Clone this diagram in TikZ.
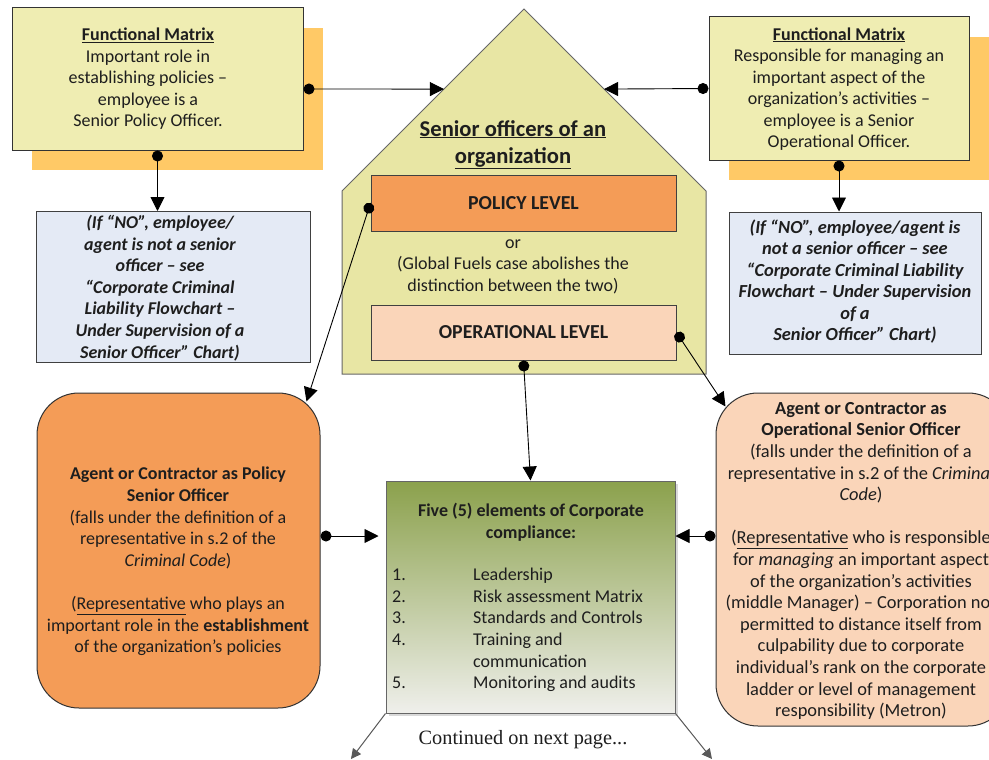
\documentclass[tikz,border=0pt]{standalone}
\usepackage{fontspec}
\setmainfont{Carlito}
\newfontfamily\contfont{Liberation Serif}
\usetikzlibrary{arrows.meta,calc,shadows}

\definecolor{matrixfill}{HTML}{EFEDB2}
\definecolor{shadowor}{HTML}{FFC966}
\definecolor{notefill}{HTML}{E4EAF5}
\definecolor{housefill}{HTML}{E8E6A4}
\definecolor{policyfill}{HTML}{F49C57}
\definecolor{opfill}{HTML}{FAD5B9}
\definecolor{greentop}{HTML}{8BA14C}
\definecolor{greenbot}{HTML}{EFEFEB}
\definecolor{ink}{HTML}{1E1E1E}

\tikzset{
  body/.style={font=\fontsize{18}{21.5}\selectfont, text=ink, align=center, inner sep=0pt},
  boxbase/.style={inner sep=0pt, line width=1pt},
  matrixbox/.style={boxbase, draw=black!80, fill=matrixfill,
    general shadow={fill=shadowor, shadow xshift=20pt, shadow yshift=-20pt}},
  notebox/.style={boxbase, draw=black!75, fill=notefill},
  levelbox/.style={boxbase, draw=black!75},
  roundbox/.style={boxbase, draw=black!80, rounded corners=42pt},
  greenbox/.style={boxbase, draw=black!60, top color=greentop, bottom color=greenbot,
    general shadow={fill=black!15, shadow xshift=3pt, shadow yshift=-3pt}},
  link/.style={line width=0.9pt, draw=black, {Circle[length=11pt]}-{Triangle[length=14pt,width=14pt]}},
  cont/.style={line width=1pt, draw=black!65, -{Triangle[length=10pt,width=10pt]}},
}

\begin{document}
\begin{tikzpicture}[x=1pt, y=-1pt]
\clip (0,0) rectangle (989,760);
\fill[white] (0,0) rectangle (989,760);

% house outline
\coordinate (hsl) at (342,191);
\coordinate (apex) at (524,9);
\coordinate (hsr) at (706,191);
\coordinate (hbr) at (706,374);
\coordinate (hbl) at (342,374);
\draw[line width=1pt, draw=black!60, fill=housefill]
  (hsl) -- (apex) -- (hsr) -- (hbr) -- (hbl) -- cycle;
\coordinate (roofL) at ($(hsl)!0.56!(apex)$);
\coordinate (roofR) at ($(hsr)!0.56!(apex)$);

\node[body, font=\fontsize{22.6}{27}\selectfont\bfseries] (title) at (513,144.5)
  {\underline{Senior officers of an}\\\underline{organization}};

\node[levelbox, fill=policyfill, minimum width=305pt, minimum height=56pt] (pol) at (523.5,203) {};
\node[body, font=\fontsize{19.8}{22}\selectfont\bfseries] (poltxt) at (pol) {POLICY LEVEL};

\node[body] (ortxt) at (513,266.5)
  {or\\(Global Fuels case abolishes the\\distinction between the two)};

\node[levelbox, fill=opfill, minimum width=305pt, minimum height=55pt] (op) at (523.5,332.5) {};
\node[body, font=\fontsize{19.8}{22}\selectfont\bfseries] (optxt) at (op) {OPERATIONAL LEVEL};

% functional matrix boxes
\node[matrixbox, minimum width=291pt, minimum height=142pt] (tl) at (157.5,79) {};
\node[body] (tltxt) at (148,79)
  {\underline{\textbf{Functional Matrix}}\\Important role in\\establishing policies –\\employee is a\\Senior Policy Officer.};

\node[matrixbox, minimum width=260pt, minimum height=143pt] (tr) at (839,88.5) {};
\node[body] (trtxt) at (839,89)
  {\underline{\textbf{Functional Matrix}}\\Responsible for managing an\\important aspect of the\\organization’s activities –\\employee is a Senior\\Operational Officer.};

% "if no" notes
\node[notebox, minimum width=274pt, minimum height=151pt] (notel) at (173,287) {};
\node[body, font=\fontsize{18}{21.6}\selectfont\bfseries\itshape] (noteltxt) at (160,288)
  {(If “NO”, employee/\\agent is not a senior\\officer – see\\“Corporate Criminal\\Liability Flowchart –\\Under Supervision of a\\Senior Officer” Chart)};

\node[notebox, minimum width=252pt, minimum height=142pt] (notr) at (855,283) {};
\node[body, font=\fontsize{18.4}{21.4}\selectfont\bfseries\itshape] (notrtxt) at (855,281.5)
  {(If “NO”, employee/agent is\\not a senior officer – see\\“Corporate Criminal Liability\\Flowchart – Under Supervision\\of a\\Senior Officer” Chart)};

% agents / contractors
\node[roundbox, fill=policyfill, minimum width=283pt, minimum height=315pt] (lob) at (178.5,550.5) {};
\node[body, font=\fontsize{18}{21.6}\selectfont] (lobtxt) at (178,561.5)
  {\textbf{Agent or Contractor as Policy}\\\textbf{Senior Officer}\\(falls under the definition of a\\representative in s.2 of the\\\textit{Criminal Code})\\[21.6pt]
   (\underline{Representative} who plays an\\important role in the \textbf{establishment}\\of the organization’s policies};

\node[roundbox, fill=opfill, minimum width=294pt, minimum height=333pt] (rpb) at (863,559.5) {};
\node[body, font=\fontsize{18.4}{21.6}\selectfont] (rpbtxt) at (861,561)
  {\textbf{Agent or Contractor as}\\\textbf{Operational Senior Officer}\\(falls under the definition of a\\representative in s.2 of the \textit{Criminal}\\\textit{Code})\\[21.6pt]
   (\underline{Representative} who is responsible\\for \textit{managing} an important aspect\\of the organization’s activities\\(middle Manager) – Corporation not\\permitted to distance itself from\\culpability due to corporate\\individual’s rank on the corporate\\ladder or level of management\\responsibility (Metron)};

% compliance elements
\node[greenbox, minimum width=289pt, minimum height=232pt] (grn) at (530.5,597) {};
\node[body, font=\fontsize{18}{21.5}\selectfont\bfseries] (grntitle) at (531,522)
  {Five (5) elements of Corporate\\compliance:};
\node[body, align=left, anchor=west, font=\fontsize{18}{21.6}\selectfont] (grnlist) at (392,630)
  {\makebox[81pt][l]{1.}Leadership\\
   \makebox[81pt][l]{2.}Risk assessment Matrix\\
   \makebox[81pt][l]{3.}Standards and Controls\\
   \makebox[81pt][l]{4.}Training and\\
   \hspace*{81pt}communication\\
   \makebox[81pt][l]{5.}Monitoring and audits};

\node[body, font=\fontsize{20.3}{22}\selectfont\contfont] (conttxt) at (523,740) {Continued on next page...};
\coordinate (contL) at (351,759);
\coordinate (contR) at (712,759);

% connectors
\draw[link] ([yshift=-10pt]tl.east) -- (roofL);
\draw[link] (tr.west) -- (roofR);
\draw[link] (tl.south) -- (tl.south |- notel.north);
\draw[link] (tr.south) -- (tr.south |- notr.north);
\draw[link] (pol.west) -- ([xshift=-14pt,yshift=-9pt]lob.north east);
\draw[link] (op.east) -- ([xshift=10pt,yshift=-14pt]rpb.north west);
\draw[link] (op.south) -- (grn.north);
\draw[link] ([yshift=14.5pt]lob.east) -- ([yshift=14.5pt,xshift=-7pt]lob.east -| grn.west);
\draw[link] ([yshift=23.5pt]rpb.west) -- ([yshift=23.5pt]rpb.west -| grn.east);
\draw[cont] (grn.south west) -- (contL);
\draw[cont] (grn.south east) -- (contR);
\end{tikzpicture}
\end{document}
